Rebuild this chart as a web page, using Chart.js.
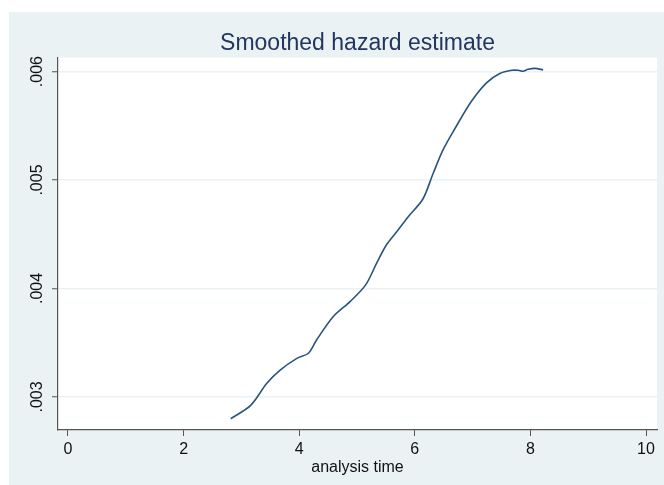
<!DOCTYPE html>
<html>
<head>
<meta charset="utf-8">
<script src="https://cdn.jsdelivr.net/npm/chart.js@4/dist/chart.umd.min.js"></script>
<style>
  html, body { margin: 0; padding: 0; background: #fff; }
  #wrap { width: 664px; height: 485px; }
</style>
</head>
<body>
<div id="wrap"><canvas id="hazard"></canvas></div>
<script>
// ── Data ──
const hazTime  = [2.815, 3.16, 3.44, 3.67, 3.96, 4.16, 4.30, 4.59, 4.88, 5.15, 5.34, 5.51, 5.69, 5.89,
                  6.14, 6.32, 6.49, 6.70, 6.98, 7.24, 7.47, 7.68, 7.79, 7.87, 7.96, 8.08, 8.22];
const hazValue = [.002799, .002922, .003126, .003248, .003356, .003403, .003525, .003741, .003879, .004033,
                  .004234, .004403, .004525, .004664, .004825, .005065, .005280, .005480, .005726, .005896,
                  .005982, .006012, .006012, .006003, .006021, .006030, .006015];
const xTicks      = [0, 2, 4, 6, 8, 10];
const yTicks      = [.003, .004, .005, .006];
const yTickLabels = ['.003', '.004', '.005', '.006'];

const PANEL   = '#eaf2f3';
const NAVY    = '#2a5480';
const FONT    = '"Liberation Sans", Arial, Helvetica, sans-serif';

// ── Fundo do painel + área do gráfico branca ──
const panelBg = {
  id: 'panelBg',
  beforeDraw(chart) {
    const { ctx, chartArea: a } = chart;
    ctx.save();
    ctx.fillStyle = PANEL;
    ctx.fillRect(9, 12, chart.width - 9, chart.height - 12);
    ctx.fillStyle = '#fff';
    ctx.fillRect(a.left, a.top, a.right - a.left, a.bottom - a.top);
    ctx.restore();
  },
};

// ── Rótulos do eixo y girados (Chart.js não gira ticks verticais) ──
const yLabels = {
  id: 'yLabels',
  afterDraw(chart) {
    const { ctx } = chart;
    const y = chart.scales.y;
    ctx.save();
    ctx.fillStyle = '#111';
    ctx.font = '16px ' + FONT;
    ctx.textAlign = 'center';
    ctx.textBaseline = 'middle';
    yTicks.forEach((v, i) => {
      ctx.save();
      ctx.translate(38, y.getPixelForValue(v));
      ctx.rotate(-Math.PI / 2);
      ctx.fillText(yTickLabels[i], 0, 0);
      ctx.restore();
    });
    ctx.restore();
  },
};

new Chart(document.getElementById('hazard'), {
  type: 'line',
  data: {
    datasets: [{
      data: hazTime.map((t, i) => ({ x: t, y: hazValue[i] })),
      borderColor: NAVY,
      borderWidth: 1.6,
      pointRadius: 0,
      tension: 0.3,
      fill: false,
    }],
  },
  options: {
    responsive: true,
    maintainAspectRatio: false,
    animation: false,
    layout: { padding: { top: 12, right: 7, left: 0, bottom: 0 } },
    plugins: {
      legend: { display: false },
      tooltip: { enabled: false },
      title: {
        display: true,
        fullSize: false,
        text: 'Smoothed hazard estimate',
        color: '#22365f',
        font: { family: FONT, size: 23, weight: 'normal' },
        padding: { top: 18, bottom: 0 },
      },
    },
    scales: {
      x: {
        type: 'linear',
        min: -0.173,
        max: 10.19,
        afterBuildTicks: s => { s.ticks = xTicks.map(v => ({ value: v })); },
        afterFit: s => { s.height = 55; },
        ticks: { color: '#111', font: { family: FONT, size: 16 }, padding: 4, maxRotation: 0 },
        grid: { drawOnChartArea: false, tickLength: 6, tickColor: '#555', tickWidth: 1 },
        border: { color: '#555', width: 1.2 },
        title: {
          display: true,
          text: 'analysis time',
          color: '#111',
          font: { family: FONT, size: 16 },
          padding: { top: 0, bottom: 8 },
        },
      },
      y: {
        type: 'linear',
        min: 0.002695,
        max: 0.006129,
        afterBuildTicks: s => { s.ticks = yTicks.map(v => ({ value: v })); },
        afterFit: s => { s.width = 58; },
        ticks: { display: false },
        grid: { color: PANEL, lineWidth: 1.5, tickLength: 6, tickColor: '#555', tickWidth: 1 },
        border: { color: '#555', width: 1.2 },
      },
    },
  },
  plugins: [panelBg, yLabels],
});
</script>
</body>
</html>
